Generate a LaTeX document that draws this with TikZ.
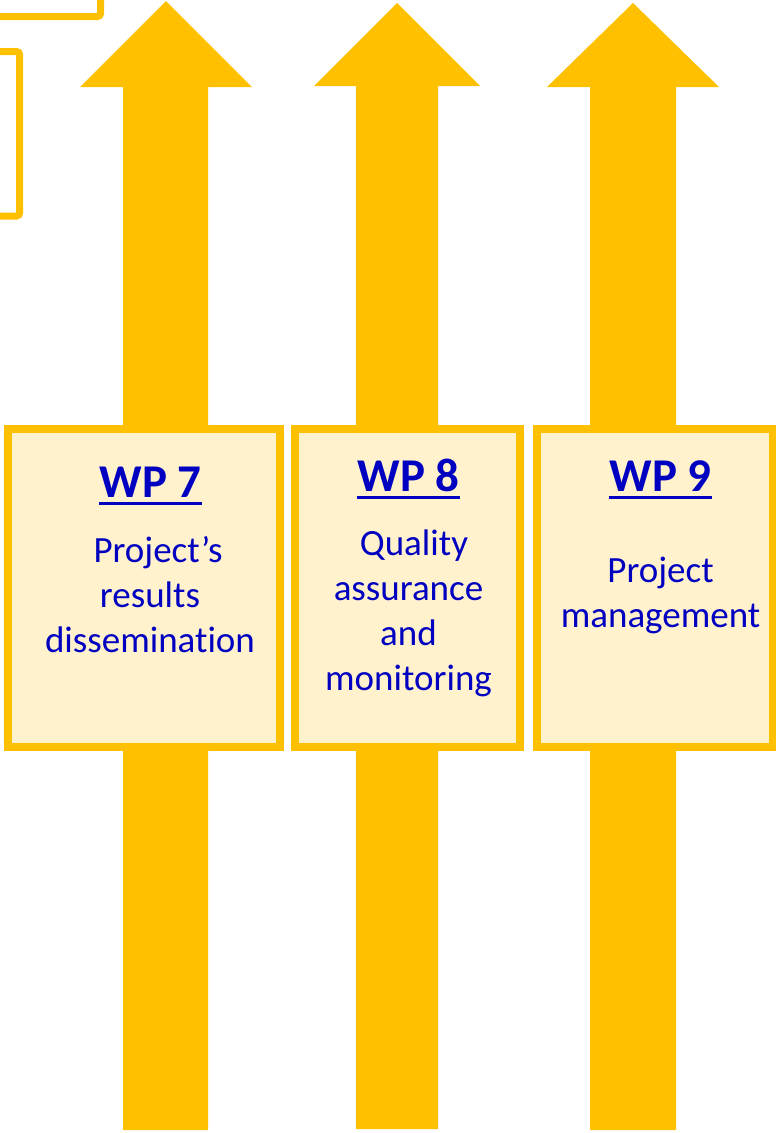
\documentclass[tikz,border=0pt]{standalone}
\usepackage{fontspec}
\setmainfont{Carlito}[Ligatures=NoCommon]
\definecolor{gold}{HTML}{FFC000}
\definecolor{paleyellow}{HTML}{FFF2CC}
\definecolor{wpblue}{HTML}{0000C0}
\begin{document}
\begin{tikzpicture}[x=1pt,y=-1pt,
  arrowshape/.style={fill=gold},
  wpbox/.style={draw=gold,fill=paleyellow,line width=8pt,rectangle,inner sep=0pt},
  head/.style={font=\fontsize{47}{56}\selectfont\bfseries,text=wpblue,inner sep=0pt,anchor=base},
  body/.style={font=\fontsize{37}{45}\selectfont,text=wpblue,inner sep=0pt,anchor=base,align=center},
  ulline/.style={draw=wpblue,line width=3pt},
  frame/.style={draw=gold,line width=7pt,rounded corners=3pt}]
\useasboundingbox (0,0) rectangle (776,1133);
% arrows
\fill[arrowshape] (123,1130) -- (123,87) -- (80,87) -- (166,1) -- (252,87) -- (208,87) -- (208,1130) -- cycle;
\fill[arrowshape] (356,1129) -- (356,86) -- (314,86) -- (397,3) -- (480,86) -- (438,86) -- (438,1129) -- cycle;
\fill[arrowshape] (590,1130) -- (590,87) -- (547,87) -- (633,3) -- (719,87) -- (676,87) -- (676,1130) -- cycle;
% top-left frames
\draw[frame] (-40,-40) rectangle (100.5,16.5);
\draw[frame] (-40,51.5) rectangle (19.5,216);
% WP boxes
\node[wpbox,minimum width=272pt,minimum height=317.5pt] (box7) at (143.5,587.75) {};
\node[wpbox,minimum width=224.5pt,minimum height=317.5pt] (box8) at (407.25,587.75) {};
\node[wpbox,minimum width=235.5pt,minimum height=317.5pt] (box9) at (654.75,587.75) {};
% headings
\node[head] (h7) at (150.5,497) {WP 7};
\node[head] (h8) at (408.5,491) {WP 8};
\node[head] (h9) at (660.5,491) {WP 9};
\draw[ulline] ([yshift=-6pt]h7.base west) -- ([yshift=-6pt]h7.base east);
\draw[ulline] ([yshift=-6pt]h8.base west) -- ([yshift=-6pt]h8.base east);
\draw[ulline] ([yshift=-6pt]h9.base west) -- ([yshift=-6pt]h9.base east);
% bodies (anchor = baseline of last line)
\node[body] (t7) at (150,652) {\hspace*{16pt}Project’s\\results\\dissemination};
\node[body] (t8) at (408.5,690) {\hspace*{11pt}Quality\\assurance\\and\\monitoring};
\node[body] (t9) at (660.5,627) {Project\\management};
\end{tikzpicture}
\end{document}
